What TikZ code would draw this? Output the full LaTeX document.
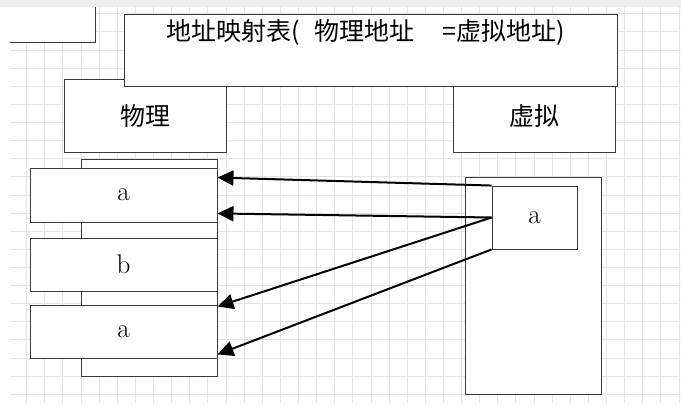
\documentclass[tikz,border=0pt]{standalone}
\usepackage{fontspec}
\newfontfamily\cjk{Noto Sans CJK SC}
\usepackage{xcolor}
\usepackage{tikz}
\usetikzlibrary{arrows.meta,calc,positioning}
\definecolor{gridgray}{HTML}{E4E4E4}
\definecolor{band}{HTML}{EFEFEF}
\definecolor{boxline}{HTML}{3A3A3A}
\tikzset{
  gridline/.style={draw=gridgray,line width=.9pt},
  box/.style={draw=boxline,fill=white,line width=.9pt,inner sep=0pt},
  head/.style={box,minimum width=162pt,minimum height=73pt,font=\cjk\fontsize{25}{28}\selectfont},
  cell/.style={box,minimum width=187pt,font=\fontsize{27}{30}\selectfont},
  column/.style={box,minimum width=136pt,minimum height=217pt},
  link/.style={-{Triangle[length=16pt,width=15pt]},draw=black,line width=2pt}
}

\begin{document}
\begin{tikzpicture}[x=1pt,y=-1pt]
  \useasboundingbox (0,0) rectangle (681,410);
  % background grid
  \fill[band] (0,0) rectangle (681,6.5);
  \foreach \i in {0,...,36} \draw[gridline] ({26.7+18.12*\i},7) -- ({26.7+18.12*\i},403);
  \foreach \j in {-2,...,19} \draw[gridline] (10,{50+18.12*\j}) -- (681,{50+18.12*\j});
  \fill[white] (10,7) rectangle (95,42);
  \draw[boxline,line width=.9pt] (10,42) -| (95,7);
  % headers
  \node[head] (phys) at (145,115.5) {物理};
  \node[head] (virt) at (534,115.5) {虚拟};
  \node[box,minimum width=493pt,minimum height=72pt] (title) at (370.5,50) {};
  \node[font=\cjk\fontsize{25}{28}\selectfont,anchor=west,inner sep=0pt] (titletext) at (166,32)
    {地址映射表(\hspace{.6em}物理地址\hspace{1.1em}=虚拟地址)};
  % physical memory
  \node[column] (pcol) at (149,267.5) {};
  \node[cell,minimum height=54pt] (pa1) at (123.5,195) {a};
  \node[cell,minimum height=53pt] (pb) at (123.5,264.5) {b};
  \node[cell,minimum height=53pt] (pa2) at (123.5,331.5) {a};
  % virtual memory
  \node[column] (vcol) at (533,285.5) {};
  \node[box,minimum width=85pt,minimum height=63pt,font=\fontsize{27}{30}\selectfont] (va) at (534.5,217.5) {a};
  % mappings
  \draw[link] (va.north west) -- ([yshift=-10pt]pa1.north east);
  \draw[link] (va.west) -- ([yshift=9pt]pa1.south east);
  \draw[link] (va.west) -- ([yshift=-2pt]pa2.north east);
  \draw[link] (va.south west) -- ([yshift=4pt]pa2.south east);
\end{tikzpicture}
\end{document}
